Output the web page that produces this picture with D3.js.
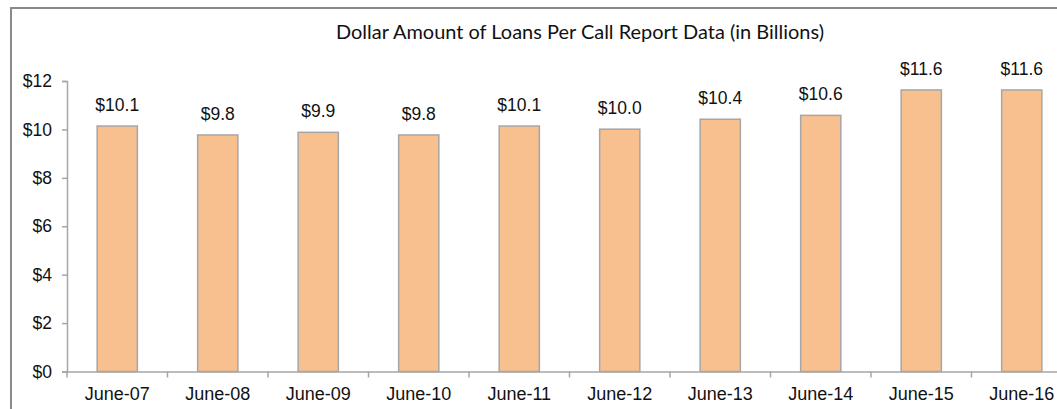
<!DOCTYPE html>
<html>
<head>
<meta charset="utf-8">
<script src="https://cdn.jsdelivr.net/npm/d3@7"></script>
<style>
  body { margin: 0; background: #fff; }
  svg { display: block; }
</style>
</head>
<body>
<svg width="1057" height="409"></svg>
<script>
// data (billions of dollars)
const categories = ['June-07', 'June-08', 'June-09', 'June-10', 'June-11', 'June-12', 'June-13', 'June-14', 'June-15', 'June-16']
const loanValues = [10.14, 9.77, 9.88, 9.77, 10.14, 10.01, 10.42, 10.58, 11.63, 11.63]
const yTicks = [0, 2, 4, 6, 8, 10, 12]
const title = 'Dollar Amount of Loans Per Call Report Data (in Billions)'

const svg = d3.select('svg')
const fmt = d3.format('$.1f')
const fmtTick = d3.format('$')

// outer chart frame (cut off on right/bottom like the reference)
svg.append('rect')
  .attr('x', 11).attr('y', 8)
  .attr('width', 1100).attr('height', 450)
  .attr('fill', 'none')
  .attr('stroke', '#8a8a8a')
  .attr('stroke-width', 2)

svg.append('text')
  .attr('x', 580)
  .attr('y', 39)
  .attr('text-anchor', 'middle')
  .attr('font-family', 'Lato, "Open Sans", sans-serif')
  .attr('font-size', 19)
  .attr('textLength', 488)
  .attr('lengthAdjust', 'spacingAndGlyphs')
  .attr('fill', '#111')
  .text(title)

const x = d3.scaleBand()
  .domain(categories)
  .range([67, 1072])
  .paddingInner(0.6)
  .paddingOuter(0.3)

const y = d3.scaleLinear()
  .domain([0, 12])
  .range([371.5, 81])

const axisColor = '#a6a6a6'
const font = '"Liberation Sans", Arial, sans-serif'

// bars
svg.append('g')
  .selectAll('rect')
  .data(loanValues)
  .enter().append('rect')
    .attr('x', (d, i) => x(categories[i]))
    .attr('y', d => y(d))
    .attr('width', x.bandwidth())
    .attr('height', d => y(0) - y(d))
    .attr('fill', '#f9c08f')
    .attr('stroke', '#a6a6a6')
    .attr('stroke-width', 1.5)

// value labels
svg.append('g')
  .selectAll('text')
  .data(loanValues)
  .enter().append('text')
    .attr('x', (d, i) => x(categories[i]) + x.bandwidth() / 2)
    .attr('y', d => y(d) - 15)
    .attr('text-anchor', 'middle')
    .attr('font-family', font)
    .attr('font-size', 17.5)
    .attr('fill', '#111')
    .text(d => fmt(d))

// y axis
const yAxis = svg.append('g')
  .attr('transform', 'translate(67,0)')
  .call(d3.axisLeft(y).tickValues(yTicks).tickSize(5).tickPadding(10).tickFormat(fmtTick))
yAxis.select('.domain').attr('stroke', axisColor).attr('stroke-width', 1.5)
yAxis.selectAll('.tick line').attr('stroke', axisColor).attr('stroke-width', 1.5)
yAxis.selectAll('.tick text')
  .attr('font-family', font)
  .attr('font-size', 17.5)
  .attr('fill', '#111')

// x axis: labels at band centres, ticks between bands
const xAxis = svg.append('g')
  .attr('transform', 'translate(0,' + y(0) + ')')
  .call(d3.axisBottom(x).tickSize(0).tickPadding(16).tickSizeOuter(0))
xAxis.select('.domain').attr('stroke', axisColor).attr('stroke-width', 1.5)
xAxis.selectAll('.tick text')
  .attr('font-family', font)
  .attr('font-size', 18)
  .attr('fill', '#111')

const bounds = [x.range()[0]].concat(categories.map(c => x(c) + x.bandwidth() / 2 + x.step() / 2))
xAxis.selectAll('line.sep')
  .data(bounds)
  .enter().append('line')
    .attr('class', 'sep')
    .attr('x1', d => d).attr('x2', d => d)
    .attr('y1', 0).attr('y2', 6)
    .attr('stroke', axisColor)
    .attr('stroke-width', 1.5)
</script>
</body>
</html>
